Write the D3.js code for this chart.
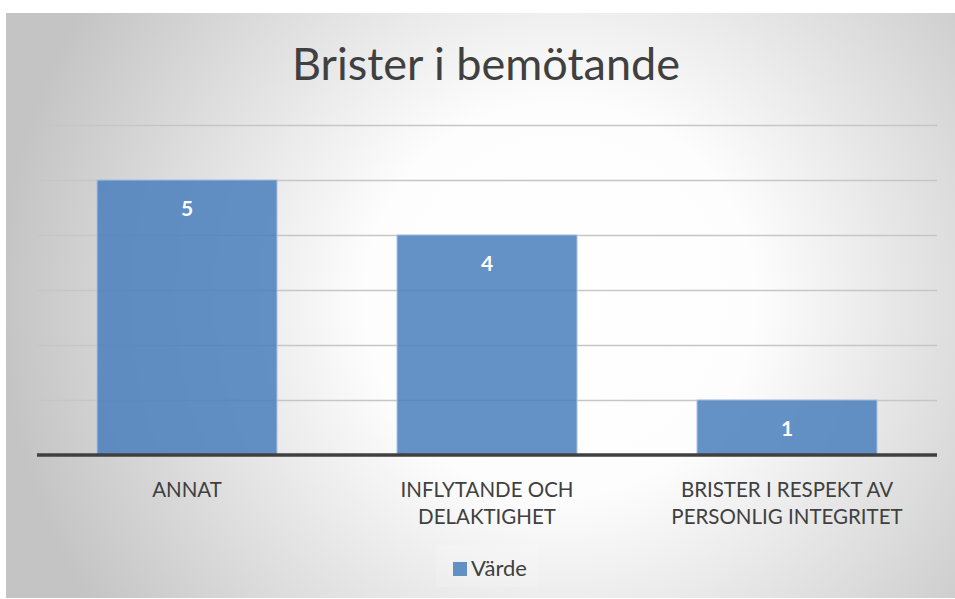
<!DOCTYPE html>
<html lang="sv">
<head>
    <meta charset="UTF-8">
    <title>Brister i bemötande</title>
    <script src="https://d3js.org/d3.v7.min.js"></script>
    <style>
        body { margin: 0; padding: 0; background: #fff; }
        svg { display: block; }
        text { font-family: Lato, "Noto Sans", sans-serif; }
    </style>
</head>
<body>
<svg></svg>
<script>
    const categories = [["ANNAT"], ["INFLYTANDE OCH", "DELAKTIGHET"], ["BRISTER I RESPEKT AV", "PERSONLIG INTEGRITET"]];
    const values = [5, 4, 1];
    const yTicks = [0, 1, 2, 3, 4, 5, 6];
    const seriesName = "Värde";

    const width = 955, height = 599;
    const svg = d3.select("svg").attr("width", width).attr("height", height);

    const defs = svg.append("defs");
    const grad = defs.append("radialGradient")
        .attr("id", "bg")
        .attr("gradientUnits", "userSpaceOnUse")
        .attr("cx", 560).attr("cy", 300).attr("r", 560);
    grad.append("stop").attr("offset", "0%").attr("stop-color", "#ffffff");
    grad.append("stop").attr("offset", "35%").attr("stop-color", "#fdfdfd");
    grad.append("stop").attr("offset", "100%").attr("stop-color", "#c4c4c4");

    // chart area
    svg.append("rect")
        .attr("x", 6).attr("y", 13)
        .attr("width", width - 6).attr("height", height - 14)
        .attr("fill", "url(#bg)");

    const plotLeft = 37, plotRight = 937, plotTop = 125, plotBottom = 455;

    const x = d3.scaleBand()
        .domain(d3.range(categories.length))
        .range([plotLeft, plotRight])
        .paddingInner(0.4)
        .paddingOuter(0.2);

    const y = d3.scaleLinear().domain([0, 6]).range([plotBottom, plotTop]);

    // title
    svg.append("text")
        .attr("x", 486).attr("y", 80)
        .attr("text-anchor", "middle")
        .attr("font-size", 45)
        .attr("fill", "#404040")
        .text("Brister i bemötande");

    // gridlines
    svg.append("g")
        .selectAll("line")
        .data(yTicks.slice(1))
        .join("line")
        .attr("x1", plotLeft).attr("x2", plotRight)
        .attr("y1", d => y(d) + 0.5).attr("y2", d => y(d) + 0.5)
        .attr("stroke", "#c6c6c6")
        .attr("stroke-width", 1.3);

    // bars
    svg.append("g")
        .selectAll("rect")
        .data(values)
        .join("rect")
        .attr("x", (d, i) => x(i))
        .attr("y", d => y(d))
        .attr("width", x.bandwidth())
        .attr("height", d => y(0) - y(d))
        .attr("fill", "#4a7fbc")
        .attr("fill-opacity", 0.85)
        .attr("stroke", "#a9c2e2")
        .attr("stroke-width", 1);

    // value labels
    svg.append("g")
        .selectAll("text")
        .data(values)
        .join("text")
        .attr("x", (d, i) => x(i) + x.bandwidth() / 2)
        .attr("y", d => y(d) + 36)
        .attr("text-anchor", "middle")
        .attr("font-size", 21)
        .attr("font-weight", "bold")
        .attr("fill", "#ffffff")
        .text(d => d);

    // baseline
    svg.append("line")
        .attr("x1", plotLeft).attr("x2", plotRight)
        .attr("y1", y(0)).attr("y2", y(0))
        .attr("stroke", "#404040")
        .attr("stroke-width", 3.5);

    // category labels
    const cat = svg.append("g")
        .selectAll("text")
        .data(categories)
        .join("text")
        .attr("x", (d, i) => x(i) + x.bandwidth() / 2)
        .attr("y", 497)
        .attr("text-anchor", "middle")
        .attr("font-size", 20.5)
        .attr("fill", "#404040");
    cat.selectAll("tspan")
        .data(d => d)
        .join("tspan")
        .attr("x", function () { return d3.select(this.parentNode).attr("x"); })
        .attr("dy", (d, i) => i === 0 ? 0 : 27)
        .text(d => d);

    // legend
    const legend = svg.append("g");
    legend.append("rect")
        .attr("x", 436).attr("y", 545).attr("width", 102).attr("height", 42)
        .attr("fill", "#ffffff").attr("fill-opacity", 0.15);
    legend.append("rect")
        .attr("x", 453).attr("y", 562).attr("width", 14).attr("height", 14)
        .attr("fill", "#4a7fbc").attr("fill-opacity", 0.85);
    legend.append("text")
        .attr("x", 471).attr("y", 576)
        .attr("font-size", 22)
        .attr("fill", "#404040")
        .text(seriesName);
</script>
</body>
</html>
